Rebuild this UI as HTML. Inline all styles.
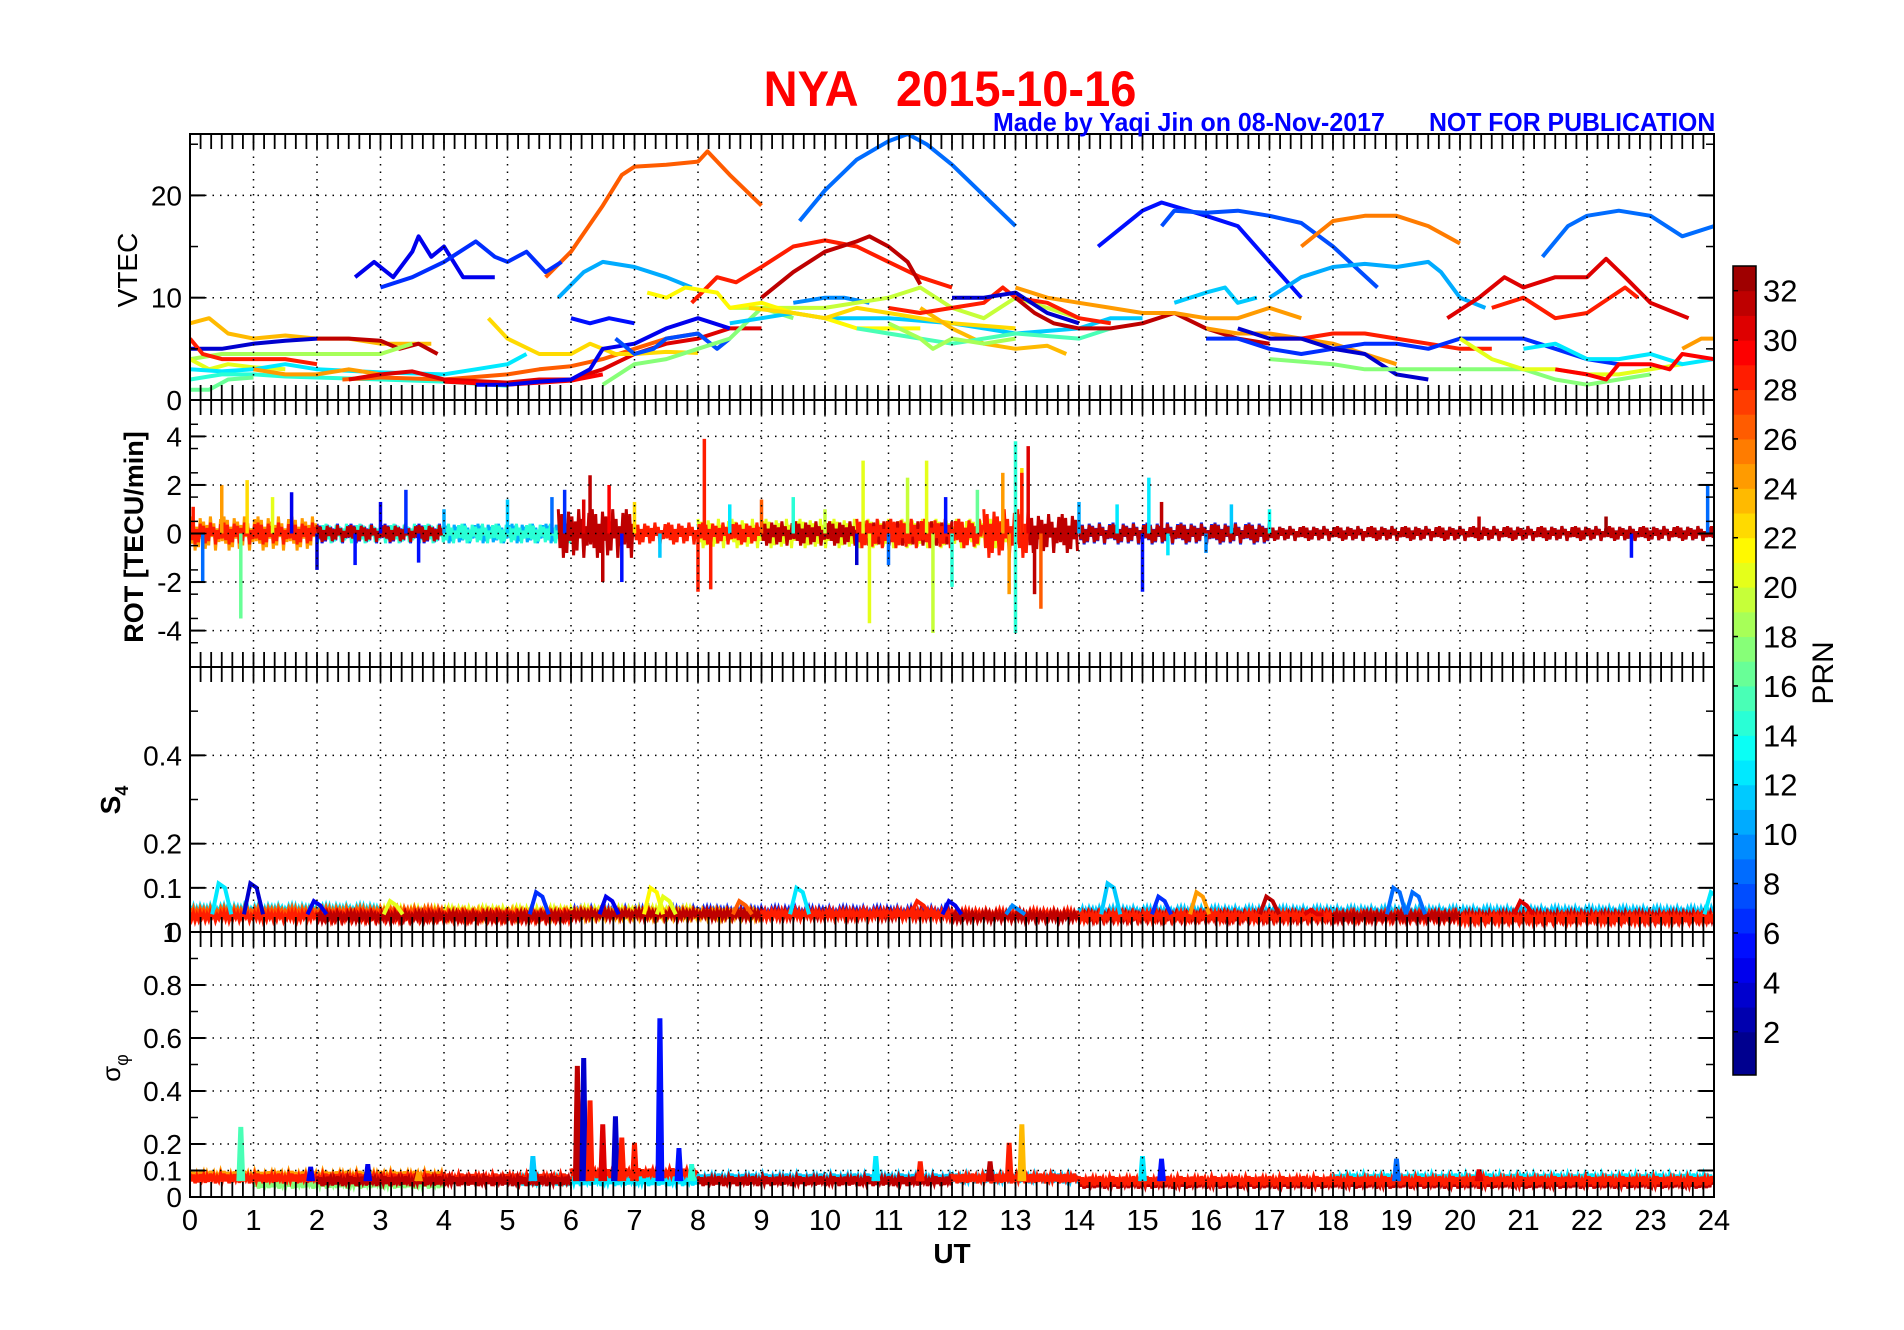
<!DOCTYPE html>
<html><head><meta charset="utf-8">
<style>
html,body{margin:0;padding:0;background:#fff;}
svg{display:block;font-family:"Liberation Sans",Arial,sans-serif;}
</style></head>
<body>
<svg id="chart" width="1904" height="1330" viewBox="0 0 1904 1330" xmlns="http://www.w3.org/2000/svg">
<rect x="0" y="0" width="1904" height="1330" fill="#fff"/>
<g id="marks"></g>
<g id="axes"></g>
<text x="950" y="106" text-anchor="middle" font-size="50" font-weight="bold" fill="#ff0000" transform="translate(950,0) scale(0.94,1) translate(-950,0)" xml:space="preserve">NYA   2015-10-16</text>
<text x="993" y="131" font-size="26" font-weight="bold" fill="#0000ff" transform="translate(993,0) scale(0.96,1) translate(-993,0)">Made by Yaqi Jin on 08-Nov-2017</text>
<text x="1429" y="131" font-size="26" font-weight="bold" fill="#0000ff" transform="translate(1429,0) scale(0.955,1) translate(-1429,0)">NOT FOR PUBLICATION</text>
<text x="0" y="0" font-size="28" text-anchor="middle" transform="translate(137,270) rotate(-90)">VTEC</text>
<text x="0" y="0" font-size="27" font-weight="bold" text-anchor="middle" transform="translate(143,537) rotate(-90)">ROT [TECU/min]</text>
<text x="0" y="0" font-size="28" font-weight="bold" text-anchor="middle" transform="translate(120,800) rotate(-90)">S<tspan font-size="18" dy="8">4</tspan></text>
<text x="0" y="0" font-size="26" text-anchor="middle" transform="translate(120,1068) rotate(-90)">σ<tspan font-size="18" dy="8">φ</tspan></text>
<text x="952" y="1263" font-size="28" font-weight="bold" text-anchor="middle">UT</text>
<text x="0" y="0" font-size="30" text-anchor="middle" transform="translate(1833,673) rotate(-90)">PRN</text>
<g id="cbar"></g>
</svg>
<script>
// ---------- data ----------
const hourTicks = [0,1,2,3,4,5,6,7,8,9,10,11,12,13,14,15,16,17,18,19,20,21,22,23,24];
const vtecTicks = [0,10,20];
const rotTicks = [-4,-2,0,2,4];
const s4Ticks = [0,0.1,0.2,0.4];
const sigTicks = [0,0.1,0.2,0.4,0.6,0.8];
const prnTicks = [2,4,6,8,10,12,14,16,18,20,22,24,26,28,30,32];

const vtecPrn = [8,26,5,7,25,10,10,8,30,28,4,6,28,31,
  23,31,3,18,28,20,12,14,16,24,26,30,29,22,4,5,7,17,
  9,11,19,21,22,23,15,18,28,3,31,24,
  24,28,6,3,17,20,12,29,24,11];
const vtecPts = [
 [[9.6,17.5],[10,20.5],[10.5,23.5],[11,25.3],[11.3,26],[11.6,25],[12,23],[12.5,20],[13,17]],
 [[5.6,12],[6,14.5],[6.5,19],[6.8,22],[7,22.8],[7.5,23],[8,23.3],[8.15,24.3],[8.5,22],[9,19]],
 [[14.3,15],[15,18.5],[15.3,19.3],[16,18],[16.5,17],[17,13.5],[17.5,10]],
 [[15.3,17],[15.5,18.5],[16,18.3],[16.5,18.5],[17,18],[17.5,17.3],[18,15],[18.7,11]],
 [[17.5,15],[18,17.5],[18.5,18],[19,18],[19.5,17],[20,15.3]],
 [[5.8,10],[6.2,12.5],[6.5,13.5],[7,13],[7.5,12],[7.9,11]],
 [[17,10],[17.5,12],[18,13],[18.5,13.3],[19,13],[19.5,13.5],[19.7,12.5],[20,10],[20.4,9]],
 [[21.3,14],[21.7,17],[22,18],[22.5,18.5],[23,18],[23.5,16],[24,17]],
 [[19.8,8],[20.3,10],[20.7,12],[21,11],[21.5,12],[22,12],[22.3,13.8],[22.6,12],[23,9.5],[23.6,8]],
 [[20.5,9],[21,10],[21.5,8],[22,8.5],[22.6,11],[22.8,10]],
 [[2.6,12],[2.9,13.5],[3.2,12],[3.5,14.5],[3.6,16],[3.8,14],[4.0,15],[4.3,12],[4.8,12]],
 [[3,11],[3.5,12],[4,13.5],[4.5,15.5],[4.8,14],[5,13.5],[5.3,14.5],[5.6,12.5],[5.85,13.5]],
 [[7.9,9.5],[8.3,12],[8.6,11.5],[9,13],[9.5,15],[10,15.6],[10.5,15],[11,13.5],[11.5,12],[12,11]],
 [[9,10],[9.5,12.5],[10,14.5],[10.5,15.5],[10.7,16],[11,15],[11.3,13.5],[11.5,11.3]],
 [[0,7.5],[0.3,8],[0.6,6.5],[1,6],[1.5,6.3],[2,6],[2.5,6],[3,5.5],[3.5,5.5],[3.8,5.5]],
 [[2,6],[2.5,6],[3,5.8],[3.3,5],[3.6,5.5],[3.9,4.5]],
 [[0,5],[0.5,5],[1,5.5],[1.5,5.8],[2,6]],
 [[0,4],[0.5,4.5],[1,4.5],[2,4.5],[3,4.5],[3.5,5.5]],
 [[0,6],[0.2,4.5],[0.5,4],[1,4],[1.5,4],[2,3.5]],
 [[0,4],[0.3,3],[0.6,3.5],[1,3.2],[1.5,3]],
 [[0,3],[0.5,2.8],[1,3],[1.5,3.5],[2,3],[3,2.7],[4,2.5],[4.5,3],[5,3.5],[5.3,4.5]],
 [[0,2],[0.5,2.5],[1,2.5],[1.5,2.3],[2,2.2],[3,2],[4,1.8],[4.5,1.6],[5,1.4]],
 [[0,1],[0.3,1],[0.6,2],[1,2.2]],
 [[1,3],[1.5,2.5],[2,2.5],[2.5,3],[3,2.5]],
 [[2.4,2],[3,2.2],[4,2],[5,2.5],[5.5,3],[6,3.3],[6.5,4],[7,5],[7.5,6],[8,6.5]],
 [[2.5,2],[3,2.5],[3.5,2.8],[4,2],[5,1.7],[5.5,2],[6,2],[6.5,3],[7,4.5],[7.5,5.5],[8,6],[8.5,7],[9,7]],
 [[4,1.8],[5,1.5],[5.5,1.7],[6,1.9],[6.5,2.5]],
 [[4.7,8],[5,6],[5.5,4.5],[6,4.5],[6.3,5.5],[6.7,4.5],[7,4.5],[7.5,4.7],[8,4.6]],
 [[4.5,1.5],[5,1.5],[5.5,1.8],[6,2],[6.3,3],[6.5,5],[7,5.5],[7.5,7],[8,8],[8.5,7]],
 [[6,8],[6.3,7.5],[6.6,8],[7,7.5]],
 [[6.7,6],[7,4.5],[7.3,5],[7.5,6],[8,6.5],[8.3,5],[8.5,6]],
 [[6.5,1.5],[7,3.5],[7.5,4],[8,5],[8.5,6],[9,9],[9.5,8]],
 [[9.5,9.5],[10,10],[10.3,10],[10.7,9.5]],
 [[8.5,7.5],[9,8],[9.5,8.5],[10,8],[11,8],[12,7.5],[12.5,7],[13,6.5],[14,7],[14.5,8],[15,8]],
 [[8.5,9],[9,9],[10,9],[11,10],[11.5,11],[12,9],[12.5,8],[13,10],[13.5,9],[14,8]],
 [[7.2,10.5],[7.5,10],[7.8,11],[8.3,10.5],[8.5,9],[9,9.5],[9.5,8.5],[10,8],[10.5,7],[11,7],[11.5,7]],
 [[8.8,9],[9.5,8.5],[10,8],[10.5,9],[11,8.5],[11.5,8],[12,7.5],[13,7]],
 [[11.5,9],[12,7],[12.5,5.5],[13,5],[13.5,5.3],[13.8,4.5]],
 [[10.5,7],[11,6.5],[11.5,6],[12,5.5],[13,6.5],[14,6],[14.5,7]],
 [[11,7.5],[11.5,6],[11.7,5],[12,6],[12.5,5.5],[13,6]],
 [[11,9],[11.5,8.5],[12,9],[12.5,9.5],[12.8,11],[13,10],[13.5,9.5],[14,8],[14.5,7.5]],
 [[12,10],[12.5,10],[13,10.5],[13.5,8.5],[14,7.5]],
 [[13,10],[13.3,8.5],[13.6,7.5],[14,7],[14.5,7],[15,7.5],[15.5,8.5],[16,7],[16.5,6],[17,5.5]],
 [[13,11],[13.5,10],[14,9.5],[14.5,9],[15,8.5],[15.5,8.5],[16,8],[16.5,8],[17,9],[17.5,8]],
 [[16,7],[16.5,6.5],[17,6.5],[17.5,6],[18,5.5],[18.5,4.5],[19,3.5]],
 [[17,6],[17.5,6],[18,6.5],[18.5,6.5],[19,6],[19.5,5.5],[20,5],[20.5,5]],
 [[16,6],[16.5,6],[17,5],[17.5,4.5],[18,5],[18.5,5.5],[19,5.5],[19.5,5],[20,6],[20.5,6],[21,6],[21.5,5],[22,4],[22.5,3.5]],
 [[16.5,7],[17,6],[17.5,6],[18,5],[18.5,4.5],[19,2.5],[19.5,2]],
 [[17,4],[18,3.5],[18.5,3],[19,3],[20,3],[21,3],[21.5,2],[22,1.5],[22.5,2],[23,2.5]],
 [[20,6],[20.5,4],[21,3],[21.5,3],[22,2.5],[22.5,2.5],[23,3],[23.5,3.5]],
 [[21,5],[21.5,5.5],[22,4],[22.5,4],[23,4.5],[23.5,3.5],[24,4]],
 [[21.5,3],[22,2.5],[22.3,2],[22.5,3.5],[23,3.5],[23.3,3],[23.5,4.5],[24,4]],
 [[23.5,5],[23.8,6],[24,6]],
 [[15.5,9.5],[16,10.5],[16.3,11],[16.5,9.5],[16.8,10]]
];

// ROT: background band segments (blue first, reds last) and spikes
const rotSegPrn = [5,10,6,9,11,24,20,14,28,31,31,28,31,28,31,31,31,28];
const rotSegStart = [2,4,14,17,8,0,8,0,0,2,5.8,7,9,10.5,13.2,14,17,12.5];
const rotSegEnd = [4,6,17,24,10,2,13,6,2,4,7,9,12,12.5,14,17,24,13.2];
const rotSegAmp = [0.4,0.4,0.45,0.3,0.4,0.7,0.6,0.4,0.45,0.35,1.0,0.45,0.5,0.6,0.8,0.4,0.3,1.0];
const rotSpikeH = [0.05,0.2,0.5,0.8,0.9,1.3,1.6,2,2.6,3,3.4,3.6,4,5,5.7,5.9,6.2,6.3,6.5,6.6,6.8,7,7.4,8,8.1,8.2,8.5,9,9.5,10,10.5,10.6,10.7,11,11.3,11.6,11.7,11.9,12,12.4,12.8,12.9,13,13,13.1,13.2,13.3,13.4,13.1,14,14.6,15,15.1,15.3,15.4,16,16.4,17,20.3,22.3,23.9,22.7];
const rotSpikeV = [1.1,-2,2,-3.5,2.2,1.5,1.7,-1.5,-1.3,1.3,1.8,-1.2,1,1.4,1.5,1.8,1.4,2.4,-2,2,-2,1.3,-1,-2.4,3.9,-2.3,1.2,1.4,1.5,1,-1.3,3,-3.7,-1.3,2.3,3,-4.1,1.5,-2.2,1.8,2.5,-2.5,3.8,-4.1,2.7,3.6,-2.5,-3.1,2.5,1.3,1.2,-2.4,2.3,1.3,-0.9,-0.8,1.2,1,0.7,0.7,2,-1];
const rotSpikePrn = [28,8,24,16,22,20,4,3,5,4,6,5,10,11,8,6,30,31,31,29,5,22,11,28,28,28,12,26,14,19,3,20,20,8,19,20,19,5,14,16,24,24,14,14,22,30,31,26,28,10,12,5,12,31,12,9,11,13,31,32,8,5];

// S4 baseline and bumps
const s4SegPrn = [12,6,11,20,24,26,28,31,31,28,31,28,31,28];
const s4SegStart = [0,6,14,3,4,0,0,2,6,9,12,14,18,20];
const s4SegEnd = [3,12,24,8,9,4,6,6,12,14,18,20,24,24];
const s4SegLevel = [0.05,0.045,0.045,0.045,0.04,0.045,0.035,0.035,0.04,0.04,0.035,0.035,0.035,0.03];
const s4BumpH = [0.5,1,2,3.2,5.5,6.6,7.3,7.5,8.7,9.6,11.5,12,13,14.5,15.3,15.9,17,17.7,19,19.3,21,24];
const s4BumpV = [0.11,0.11,0.07,0.07,0.09,0.08,0.1,0.08,0.07,0.1,0.07,0.07,0.06,0.11,0.08,0.09,0.08,0.05,0.1,0.09,0.07,0.09];
const s4BumpPrn = [12,3,4,20,6,4,21,20,26,12,28,4,9,11,6,24,31,30,8,8,30,12];

// sigma-phi baseline and spikes
const sigSegPrn = [12,11,17,24,12,28,31,28,31,28,31,28];
const sigSegStart = [5,8,1,0,18,0,2,6,8,12,14,14];
const sigSegEnd = [8,14,4,4,24,6,6,8,12,14,24,24];
const sigSegLevel = [0.06,0.07,0.05,0.08,0.07,0.07,0.06,0.09,0.06,0.07,0.05,0.06];
const sigSpikeH = [0.8,1.9,2.8,3.6,5.4,6.1,6.2,6.3,6.5,6.7,6.8,7.0,7.4,7.7,7.9,10.8,11.5,12.6,12.9,13.1,15.0,15.3,19,20.3];
const sigSpikeV = [0.26,0.11,0.12,0.09,0.15,0.49,0.52,0.36,0.27,0.3,0.22,0.2,0.67,0.18,0.12,0.15,0.13,0.13,0.2,0.27,0.15,0.14,0.14,0.1];
const sigSpikePrn = [15,4,4,24,11,31,3,28,30,3,28,28,5,5,14,12,28,31,28,23,12,5,8,30];

// ---------- scales ----------
const X0 = 190, X1 = 1714;
const P = [
  {top:134, bot:400, min:0, max:26},
  {top:400, bot:667, min:-5.5, max:5.5},
  {top:667, bot:932, min:0, max:0.6},
  {top:932, bot:1197, min:0, max:1}
];
function xS(h){ return X0 + h*(X1-X0)/24; }
function yS(p,v){ const a=P[p]; return a.bot - (v-a.min)/(a.max-a.min)*(a.bot-a.top); }
function jet(t){
  t=Math.max(0,Math.min(1,t));
  const r=Math.max(0,Math.min(1,1.5-Math.abs(4*t-3)));
  const g=Math.max(0,Math.min(1,1.5-Math.abs(4*t-2)));
  const b=Math.max(0,Math.min(1,1.5-Math.abs(4*t-1)));
  return 'rgb('+Math.round(r*255)+','+Math.round(g*255)+','+Math.round(b*255)+')';
}
function prnColor(p){ return jet((p-0.5)/32.5); }
const NS='http://www.w3.org/2000/svg';
const marks=document.getElementById('marks');
const axes=document.getElementById('axes');
function mk(tag,attrs,parent){
  const e=document.createElementNS(NS,tag);
  for(const k in attrs) e.setAttribute(k,attrs[k]);
  parent.appendChild(e); return e;
}
// texture pattern for noisy bands (styling only)
const wig=[1,-0.6,0.8,-1,0.4,-0.8,0.9,-0.3,0.7,-0.9,0.5,-0.7,1,-0.2,0.6,-1,0.3,-0.5,0.85,-0.45];

const defs=mk('defs',{},document.getElementById('chart'));
P.forEach((a,i)=>{
  const c=mk('clipPath',{id:'clip'+i},defs);
  mk('rect',{x:X0,y:a.top,width:X1-X0,height:a.bot-a.top},c);
});

// ---------- VTEC ----------
const gV=mk('g',{'clip-path':'url(#clip0)'},marks);


vtecPts.forEach((pts,i)=>{
  const d=pts.map((p,j)=>(j?'L':'M')+xS(p[0]).toFixed(1)+','+yS(0,p[1]).toFixed(1)).join(' ');
  const e=mk('path',{d:d,fill:'none',stroke:prnColor(vtecPrn[i]),'stroke-width':4,'stroke-linejoin':'round'},gV);
  
  
});

// ---------- noisy band helper ----------
function band(g,panel,prn,h0,h1,center,amp,name,sw){
  let d='',k=0;
  for(let x=xS(h0);x<=xS(h1);x+=1.7,k++){
    const v=center+amp*wig[k%wig.length];
    d+=(k?'L':'M')+x.toFixed(1)+','+yS(panel,v).toFixed(1);
  }
  const e=mk('path',{d:d,fill:'none',stroke:prnColor(prn),'stroke-width':sw||3},g);
  
  
}

// ---------- ROT ----------
const gR=mk('g',{'clip-path':'url(#clip1)'},marks);


rotSegPrn.forEach((p,i)=>band(gR,1,p,rotSegStart[i],rotSegEnd[i],0,rotSegAmp[i],'rot-band-prn'+p,3));
rotSpikeH.forEach((h,i)=>{
  const e=mk('line',{x1:xS(h),x2:xS(h),y1:yS(1,0),y2:yS(1,rotSpikeV[i]),stroke:prnColor(rotSpikePrn[i]),'stroke-width':3.5},gR);
  
  
});

// ---------- S4 ----------
const gS=mk('g',{'clip-path':'url(#clip2)'},marks);


s4SegPrn.forEach((p,i)=>band(gS,2,p,s4SegStart[i],s4SegEnd[i],s4SegLevel[i],0.009,'s4-band-prn'+p,3.5));
s4BumpH.forEach((h,i)=>{
  const base=0.04;
  const d='M'+xS(h-0.15)+','+yS(2,base)+' L'+xS(h-0.05)+','+yS(2,s4BumpV[i])+' L'+xS(h+0.05)+','+yS(2,s4BumpV[i]-0.01)+' L'+xS(h+0.15)+','+yS(2,base);
  const e=mk('path',{d:d,fill:'none',stroke:prnColor(s4BumpPrn[i]),'stroke-width':4},gS);
  
  
});

// ---------- sigma phi ----------
const gP=mk('g',{'clip-path':'url(#clip3)'},marks);


sigSegPrn.forEach((p,i)=>band(gP,3,p,sigSegStart[i],sigSegEnd[i],sigSegLevel[i],0.018,'sigma-band-prn'+p,3.5));
sigSpikeH.forEach((h,i)=>{
  const base=0.06;
  const d='M'+xS(h-0.05)+','+yS(3,base)+' L'+xS(h-0.02)+','+yS(3,sigSpikeV[i])+' L'+xS(h+0.02)+','+yS(3,sigSpikeV[i])+' L'+xS(h+0.05)+','+yS(3,base);
  const e=mk('path',{d:d,fill:prnColor(sigSpikePrn[i]),stroke:prnColor(sigSpikePrn[i]),'stroke-width':2.5},gP);
  
  
});

// ---------- axes, grid, ticks ----------
const yTicks=[vtecTicks,rotTicks,s4Ticks,sigTicks];
const yMinor=[5,1,0.1,0.1];
P.forEach((a,pi)=>{
  hourTicks.forEach(h=>{
    if(h===0||h===24) return;
    const e=mk('line',{x1:xS(h),x2:xS(h),y1:a.top,y2:a.bot,stroke:'#000','stroke-width':1.5,'stroke-dasharray':'1.5,6'},axes);
    
    
  });
  yTicks[pi].forEach(v=>{
    const y=yS(pi,v);
    if(v!==a.min){
      const g=mk('line',{x1:X0,x2:X1,y1:y,y2:y,stroke:'#000','stroke-width':1.5,'stroke-dasharray':'1.5,6'},axes);
      
      
    }
    [[X0,X0+15],[X1-15,X1]].forEach(s=>{
      const t=mk('line',{x1:s[0],x2:s[1],y1:y,y2:y,stroke:'#000','stroke-width':2},axes);
      
      
    });
    const lbl=mk('text',{x:X0-8,y:y+10,'font-size':28,'text-anchor':'end'},axes);
    lbl.textContent=String(v);
    
    
  });
  for(let v=a.min;v<=a.max+1e-9;v+=yMinor[pi]){
    const y=yS(pi,v);
    [[X0,X0+8],[X1-8,X1]].forEach(s=>{
      const t=mk('line',{x1:s[0],x2:s[1],y1:y,y2:y,stroke:'#000','stroke-width':1.5},axes);
      
      
    });
  }
  for(let k=1;k<144;k++){
    const x=xS(k/6);
    [[a.top,a.top+15],[a.bot-15,a.bot]].forEach(s=>{
      const t=mk('line',{x1:x,x2:x,y1:s[0],y2:s[1],stroke:'#000','stroke-width':1.8},axes);
      
      
    });
  }
  const fr=mk('rect',{x:X0,y:a.top,width:X1-X0,height:a.bot-a.top,fill:'none',stroke:'#000','stroke-width':2},axes);
  
  
});
const one=mk('text',{x:X0-12,y:yS(3,1)+10,'font-size':28,'text-anchor':'end'},axes);
one.textContent='1';


hourTicks.forEach(h=>{
  const t=mk('text',{x:xS(h),y:1230,'font-size':29,'text-anchor':'middle'},axes);
  t.textContent=String(h);
  
  
});

// ---------- colorbar ----------
const cb=document.getElementById('cbar');
const CB={x:1733,w:23,top:266,bot:1075,vmax:33,vmin:0.25};
function cbY(v){ return CB.top+(CB.vmax-v)/(CB.vmax-CB.vmin)*(CB.bot-CB.top); }
for(let k=1;k<=32;k++){
  const y0=cbY(k+1), y1=(k===1)?CB.bot:cbY(k);
  const r=mk('rect',{x:CB.x,y:y0,width:CB.w,height:y1-y0+0.5,fill:prnColor(k)},cb);
  
  
}
const cf=mk('rect',{x:CB.x,y:CB.top,width:CB.w,height:CB.bot-CB.top,fill:'none',stroke:'#000','stroke-width':1.5},cb);


prnTicks.forEach(v=>{
  const y=cbY(v);
  const t=mk('line',{x1:CB.x,x2:CB.x+5,y1:y,y2:y,stroke:'#000','stroke-width':1.5},cb);
  
  
  const l=mk('text',{x:CB.x+30,y:y+11,'font-size':31},cb);
  l.textContent=String(v);
  
  
});
</script>
</body></html>
